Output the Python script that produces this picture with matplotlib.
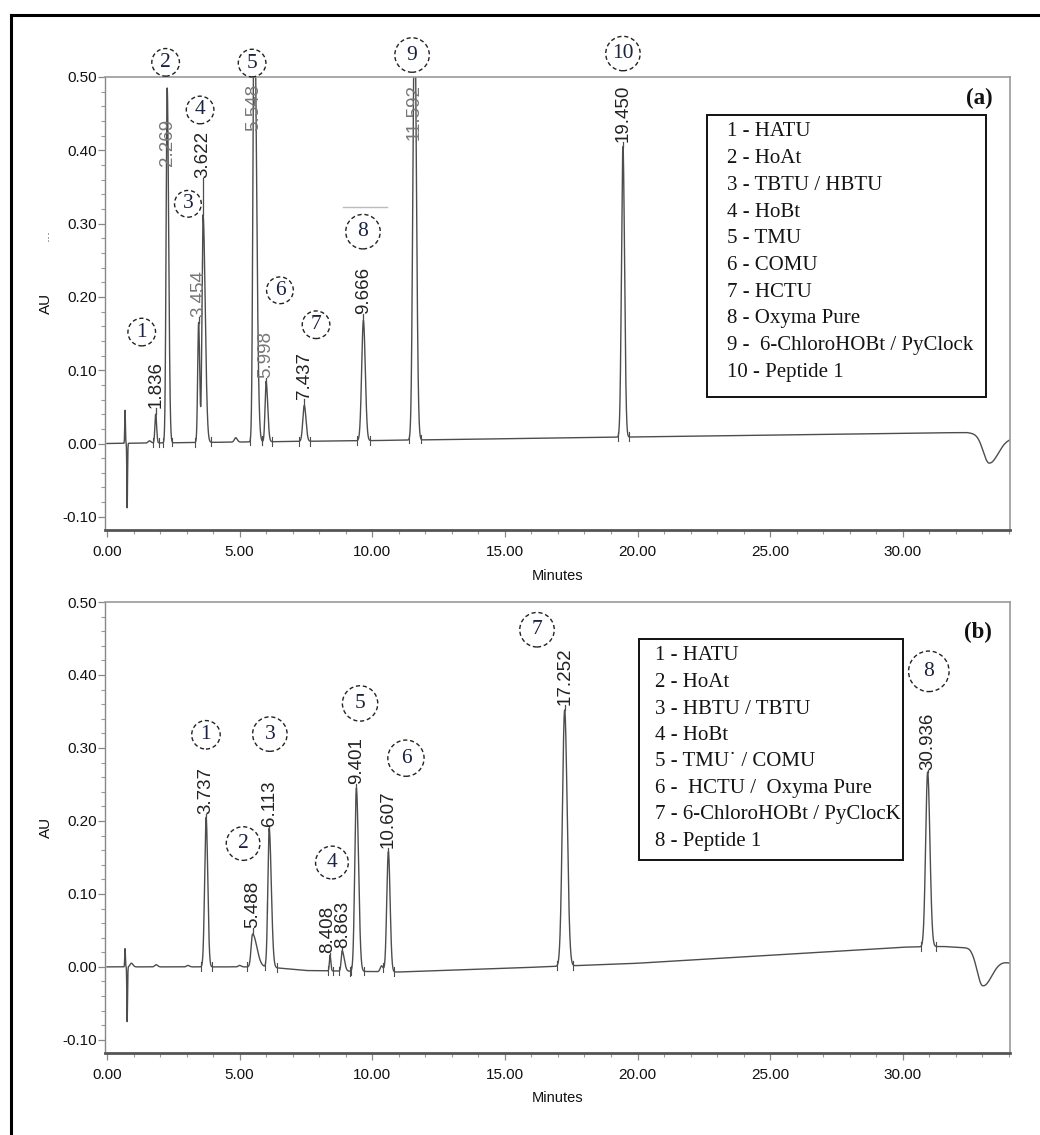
import numpy as np
import matplotlib
matplotlib.use("Agg")
import matplotlib.pyplot as plt
from matplotlib.patches import Rectangle
from matplotlib.lines import Line2D
from matplotlib.ticker import MultipleLocator, FormatStrFormatter

# ---------------- data: panel (a) ----------------
a_rt = [1.836, 2.269, 3.454, 3.622, 5.548, 5.998, 7.437, 9.666, 11.592, 19.450]
a_apex = [0.040, 0.485, 0.165, 0.312, 0.640, 0.085, 0.052, 0.168, 0.620, 0.405]
a_wl = [0.030, 0.040, 0.035, 0.040, 0.045, 0.040, 0.055, 0.065, 0.060, 0.055]
a_wr = [0.035, 0.055, 0.040, 0.080, 0.085, 0.060, 0.065, 0.070, 0.070, 0.060]
a_minor_t = [1.60, 4.85]
a_minor_h = [0.003, 0.006]
a_base_t = [0.0, 5.0, 10.0, 20.0, 30.0, 32.4, 34.0]
a_base_v = [0.0, 0.002, 0.004, 0.009, 0.014, 0.015, 0.008]
a_dip = (33.25, -0.038, 0.22, 0.35)
a_inj = [(0.68, 0.045), (0.76, -0.088)]
a_legend = ["1 - HATU", "2 - HoAt", "3 - TBTU / HBTU", "4 - HoBt", "5 - TMU",
            "6 - COMU", "7 - HCTU", "8 - Oxyma Pure",
            "9 -  6-ChloroHOBt / PyClock", "10 - Peptide 1"]
a_tags = ["1", "2", "3", "4", "5", "6", "7", "8", "9", "10"]

# ---------------- data: panel (b) ----------------
b_rt = [3.737, 5.488, 6.113, 8.408, 8.863, 9.401, 10.607, 17.252, 30.936]
b_apex = [0.205, 0.045, 0.190, 0.016, 0.022, 0.245, 0.158, 0.352, 0.267]
b_wl = [0.055, 0.055, 0.050, 0.025, 0.035, 0.060, 0.060, 0.085, 0.075]
b_wr = [0.060, 0.160, 0.080, 0.030, 0.080, 0.080, 0.065, 0.095, 0.085]
b_minor_t = [0.92, 1.85, 3.05, 5.00, 10.35]
b_minor_h = [0.005, 0.003, 0.002, 0.002, 0.008]
b_base_t = [0.0, 6.0, 7.5, 11.0, 15.0, 20.0, 25.0, 30.0, 31.5, 32.5, 34.0]
b_base_v = [0.0, 0.0, -0.005, -0.007, -0.002, 0.005, 0.016, 0.027, 0.028, 0.026, 0.006]
b_dip = (33.0, -0.045, 0.20, 0.35)
b_inj = [(0.68, 0.025), (0.76, -0.075)]
b_legend = ["1 - HATU", "2 - HoAt", "3 - HBTU / TBTU", "4 - HoBt",
            "5 - TMU\u02d9 / COMU", "6 -  HCTU /  Oxyma Pure",
            "7 - 6-ChloroHOBt / PyClocK", "8 - Peptide 1"]
b_tags = ["1", "2", "3", "4", "5", "6", "7", "8"]

x_ticks = [0, 5, 10, 15, 20, 25, 30]
y_ticks = [-0.10, 0.00, 0.10, 0.20, 0.30, 0.40, 0.50]

# ---------------- layout ----------------
W, H = 1040, 1135
fig = plt.figure(figsize=(W / 100, H / 100), dpi=100)
fig.patch.set_facecolor("white")


def fx(px):
    return px / W


def fy(py):
    return 1 - py / H


SANS = ["Liberation Sans", "DejaVu Sans"]
SERIF = ["Liberation Serif", "DejaVu Serif"]
TRACE = "#4d4d4d"

# label bottoms (data y) and x offsets for the retention time annotations
a_label_y = [0.049, 0.378, 0.173, 0.362, 0.426, 0.089, 0.061, 0.177, 0.414, 0.412]
a_label_dx = [0.03, 0, 0, 0, 0, 0, 0, 0, 0, 0]
a_label_col = ["#222", "#777", "#777", "#222", "#777", "#777", "#222", "#222", "#777", "#222"]
b_label_y = [0.210, 0.053, 0.193, 0.019, 0.026, 0.250, 0.163, 0.359, 0.270]
b_label_dx = [0, 0, 0, -0.10, 0.02, 0, 0, 0, 0]
b_label_col = ["#222"] * 9

# circled peak numbers (data coords) and circle pad
a_tag_xy = [(1.31, 0.152), (2.21, 0.520), (3.05, 0.327), (3.51, 0.455), (5.47, 0.519),
            (6.52, 0.209), (7.88, 0.162), (9.65, 0.289), (11.50, 0.530), (19.45, 0.532)]
a_tag_pad = [0.20, 0.20, 0.18, 0.20, 0.20, 0.18, 0.20, 0.36, 0.36, 0.30]
b_tag_xy = [(3.73, 0.318), (5.13, 0.169), (6.14, 0.319), (8.48, 0.143), (9.54, 0.361),
            (11.27, 0.286), (16.21, 0.462), (30.98, 0.405)]
b_tag_pad = [0.22, 0.34, 0.36, 0.32, 0.38, 0.40, 0.36, 0.50]


def asym_peak(t, t0, h, sl, sr):
    s = np.where(t < t0, sl, sr)
    return h * np.exp(-0.5 * ((t - t0) / s) ** 2)


def build_trace(t, rt, apex, wl, wr, mt, mh, bt, bv, dip, inj):
    base = np.interp(t, bt, bv)
    y = base.copy()
    y += asym_peak(t, dip[0], dip[1], dip[2], dip[3])
    for (ti, hi) in inj:
        y += asym_peak(t, ti, hi, 0.012, 0.014)
    for ti, hi in zip(mt, mh):
        y += asym_peak(t, ti, hi, 0.05, 0.06)
    for ti, ai, sl, sr in zip(rt, apex, wl, wr):
        y += asym_peak(t, ti, ai - np.interp(ti, bt, bv), sl, sr)
    return y


def style_axes(ax):
    ax.set_xlim(-0.075, 34.04)
    ax.set_ylim(-0.118, 0.500)
    ax.set_xticks(x_ticks)
    ax.set_yticks(y_ticks)
    ax.xaxis.set_minor_locator(MultipleLocator(1))
    ax.yaxis.set_minor_locator(MultipleLocator(0.02))
    ax.xaxis.set_major_formatter(FormatStrFormatter("%.2f"))
    ax.yaxis.set_major_formatter(FormatStrFormatter("%.2f"))
    ax.tick_params(axis="both", which="major", direction="out", color="#888",
                   width=0.9, length=5, labelsize=11, labelcolor="#111")
    ax.tick_params(axis="both", which="minor", direction="out", color="#999",
                   width=0.8, length=3)
    ax.tick_params(axis="y", which="major", pad=1)
    ax.tick_params(axis="x", which="major", pad=6)
    for lab in ax.get_xticklabels() + ax.get_yticklabels():
        lab.set_family(SANS)
    ax.spines["bottom"].set_color("#555")
    ax.spines["bottom"].set_linewidth(2.0)
    ax.spines["left"].set_color("#888")
    ax.spines["left"].set_linewidth(1.0)
    for s in ("top", "right"):
        ax.spines[s].set_color("#9a9a9a")
        ax.spines[s].set_linewidth(1.2)
    ax.set_xlabel("Minutes", family=SANS, fontsize=10.5, color="#111")
    ax.xaxis.set_label_coords(0.5, -0.085)
    ax.set_ylabel("AU", family=SANS, fontsize=11, color="#111")
    ax.yaxis.set_label_coords(-0.057, 0.5)


def draw_panel(ax, rt, apex, wl, wr, mt, mh, bt, bv, dip, inj,
               label_y, label_dx, label_col, tags, tag_xy, tag_pad):
    t = np.linspace(0.0, 34.04, 40000)
    y = build_trace(t, rt, apex, wl, wr, mt, mh, bt, bv, dip, inj)
    ax.plot(t, y, color=TRACE, lw=1.0, zorder=2)
    # integration start / end marks
    for ti, sl, sr in zip(rt, wl, wr):
        for te in (ti - 3.5 * sl, ti + 3.5 * sr):
            ye = np.interp(te, t, y)
            ax.plot([te, te], [ye - 0.006, ye + 0.006], color=TRACE, lw=0.8, zorder=2)
    # retention time labels
    for ti, ai, ly, dx, lc in zip(rt, apex, label_y, label_dx, label_col):
        if ly > ai:
            ax.plot([ti, ti], [ai, ly], color=TRACE, lw=0.9, zorder=2)
        ax.text(ti + dx, ly, f"{ti:.3f}", rotation=90, ha="center", va="bottom",
                family=SANS, fontsize=13.5, color=lc, zorder=4)
    # circled peak numbers
    for tg, (cx, cy), pd in zip(tags, tag_xy, tag_pad):
        ax.text(cx, cy, tg, ha="center", va="center", family=SERIF, fontsize=15.5,
                color="#1c2340", zorder=6, clip_on=False,
                bbox=dict(boxstyle=f"circle,pad={pd}", fc="white", ec="#222",
                          lw=1.0, ls=(0, (3, 2))))
    style_axes(ax)


ax_a = fig.add_axes([fx(105), fy(530), fx(1010) - fx(105), fy(77) - fy(530)])
draw_panel(ax_a, a_rt, a_apex, a_wl, a_wr, a_minor_t, a_minor_h, a_base_t, a_base_v,
           a_dip, a_inj, a_label_y, a_label_dx, a_label_col, a_tags, a_tag_xy, a_tag_pad)

ax_b = fig.add_axes([fx(105), fy(1053), fx(1010) - fx(105), fy(602) - fy(1053)])
draw_panel(ax_b, b_rt, b_apex, b_wl, b_wr, b_minor_t, b_minor_h, b_base_t, b_base_v,
           b_dip, b_inj, b_label_y, b_label_dx, b_label_col, b_tags, b_tag_xy, b_tag_pad)


# legend boxes
def legend_box(x0, y0, x1, y1, tx, ty0, dy, entries):
    fig.add_artist(Rectangle((fx(x0), fy(y1)), fx(x1) - fx(x0), fy(y0) - fy(y1),
                             transform=fig.transFigure, fc="white", ec="#111",
                             lw=1.4, zorder=8))
    for i, e in enumerate(entries):
        fig.text(fx(tx), fy(ty0 + i * dy), e, ha="left", va="center", family=SERIF,
                 fontsize=15, color="#141414", zorder=9)


legend_box(707, 115, 986, 397, 727, 132, 26.7, a_legend)
legend_box(639, 639, 903, 860, 655, 656, 26.5, b_legend)

fig.text(fx(979), fy(98), "(a)", ha="center", va="center", family=SERIF,
         fontsize=16.5, weight="bold", color="#111", zorder=9)
fig.text(fx(978), fy(632), "(b)", ha="center", va="center", family=SERIF,
         fontsize=16.5, weight="bold", color="#111", zorder=9)

# small stray marks
fig.text(fx(45), fy(235), "...", rotation=90, ha="center", va="center",
         fontsize=9, color="#666")
fig.add_artist(Line2D([fx(343), fx(387)], [fy(207), fy(207)], color="#bbb", lw=1.0,
                      transform=fig.transFigure))

# outer frame
fig.add_artist(Line2D([fx(11), fx(1045)], [fy(15), fy(15)], color="black", lw=2.2,
                      transform=fig.transFigure, zorder=10))
fig.add_artist(Line2D([fx(11), fx(11)], [fy(15), fy(1140)], color="black", lw=2.2,
                      transform=fig.transFigure, zorder=10))

fig.savefig("out.png", dpi=100, facecolor="white")
